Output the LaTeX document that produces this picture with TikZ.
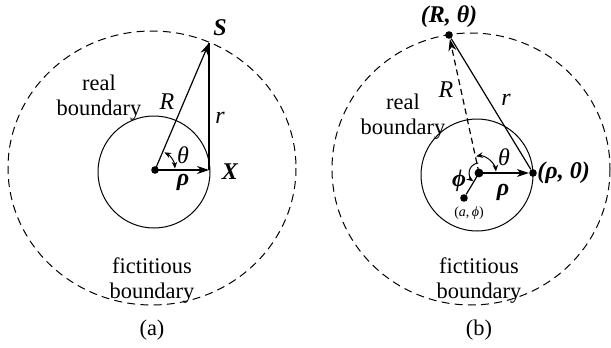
\documentclass[tikz,border=0pt]{standalone}
\usepackage{fontspec}
\setmainfont{Liberation Serif}
\usetikzlibrary{arrows.meta, calc}

\begin{document}
\begin{tikzpicture}[
  x=0.5pt, y=-0.5pt,
  bound/.style={line width=0.5pt},
  fict/.style={line width=0.5pt, dash pattern=on 4pt off 2.6pt},
  vec/.style={line width=0.6pt, -{Stealth[length=6pt, width=4pt]}},
  seg/.style={line width=0.6pt},
  angarc/.style={line width=0.5pt, {Stealth[length=3.4pt, width=2.8pt]}-{Stealth[length=3.4pt, width=2.8pt]}},
  angarcone/.style={line width=0.5pt, -{Stealth[length=3.4pt, width=2.8pt]}},
  pt/.style={circle, fill, inner sep=0pt, minimum size=3.8pt},
  txt/.style={font=\fontsize{11.2}{12.5}\selectfont, align=center, inner sep=0pt},
  sym/.style={font=\fontsize{12}{13}\selectfont\itshape, inner sep=0pt},
  bsym/.style={font=\fontsize{12}{13}\selectfont\bfseries\itshape, inner sep=0pt},
  tiny/.style={font=\fontsize{7}{8}\selectfont, inner sep=0pt}
]
\useasboundingbox (0,0) rectangle (611,348);

% ---- (a) ----
\coordinate (oa) at (155,170);
\coordinate (sa) at (209,43);
\coordinate (xa) at (209,170);
\draw[bound] (154,172) circle[radius=56];
\draw[fict] (152,168) ellipse[x radius=144, y radius=137];
\node[pt] (ca) at (oa) {};
\draw[vec] (oa) -- (sa);
\draw[vec] (oa) -- (xa);
\draw[seg] (xa) -- (sa);
\draw[angarc] ($(oa)+(-62:20)$) arc[start angle=-62, end angle=-4, radius=20];
\node[bsym] (sla) at (220,28) {S};
\node[bsym] (xla) at (230,172) {X};
\node[sym] (Rla) at (167,102) {R};
\node[sym] (rla) at (220,118) {r};
\node[sym] (tha) at (183,155) {θ};
\node[bsym] (rhoa) at (183,182) {ρ};
\node[txt] (reala) at (99,98) {real\\boundary};
\node[txt] (ficta) at (152,281) {fictitious\\boundary};
\node[txt] (capa) at (152,330) {(a)};

% ---- (b) ----
\coordinate (ob) at (479,173);
\draw[bound] (477,175) circle[radius=56];
\draw[fict] (471,169) ellipse[x radius=139, y radius=136];
\node[pt] (tb) at (449,35) {};
\node[pt] (pb) at (533,173) {};
\node[pt] (ab) at (464,198) {};
\node[pt, minimum size=4.4pt] (cb) at (ob) {};
\draw[vec, densely dashed] (ob) -- (tb);
\draw[seg] (pb) -- (tb);
\draw[vec] (ob) -- (pb);
\draw[seg] (ob) -- (ab);
\draw[angarc] ($(ob)+(-100:17)$) arc[start angle=-100, end angle=-5, radius=17];
\draw[angarcone] ($(ob)+(-95:10)$) arc[start angle=-95, end angle=-235, radius=10];
\node[bsym] (tlb) at (449,17) {(R, θ)};
\node[bsym, anchor=west] (plb) at (537,173) {(ρ, 0)};
\node[sym] (Rlb) at (446,90) {R};
\node[sym] (rlb) at (506,100) {r};
\node[sym] (thb) at (504,157) {θ};
\node[bsym] (rhob) at (503,192) {ρ};
\node[bsym] (phb) at (459,181) {ϕ};
\node[tiny] (alb) at (469,213) {(\textit{a},\,\textit{ϕ})};
\node[txt] (realb) at (403,117) {real\\boundary};
\node[txt] (fictb) at (479,281) {fictitious\\boundary};
\node[txt] (capb) at (479,330) {(b)};
\end{tikzpicture}
\end{document}
